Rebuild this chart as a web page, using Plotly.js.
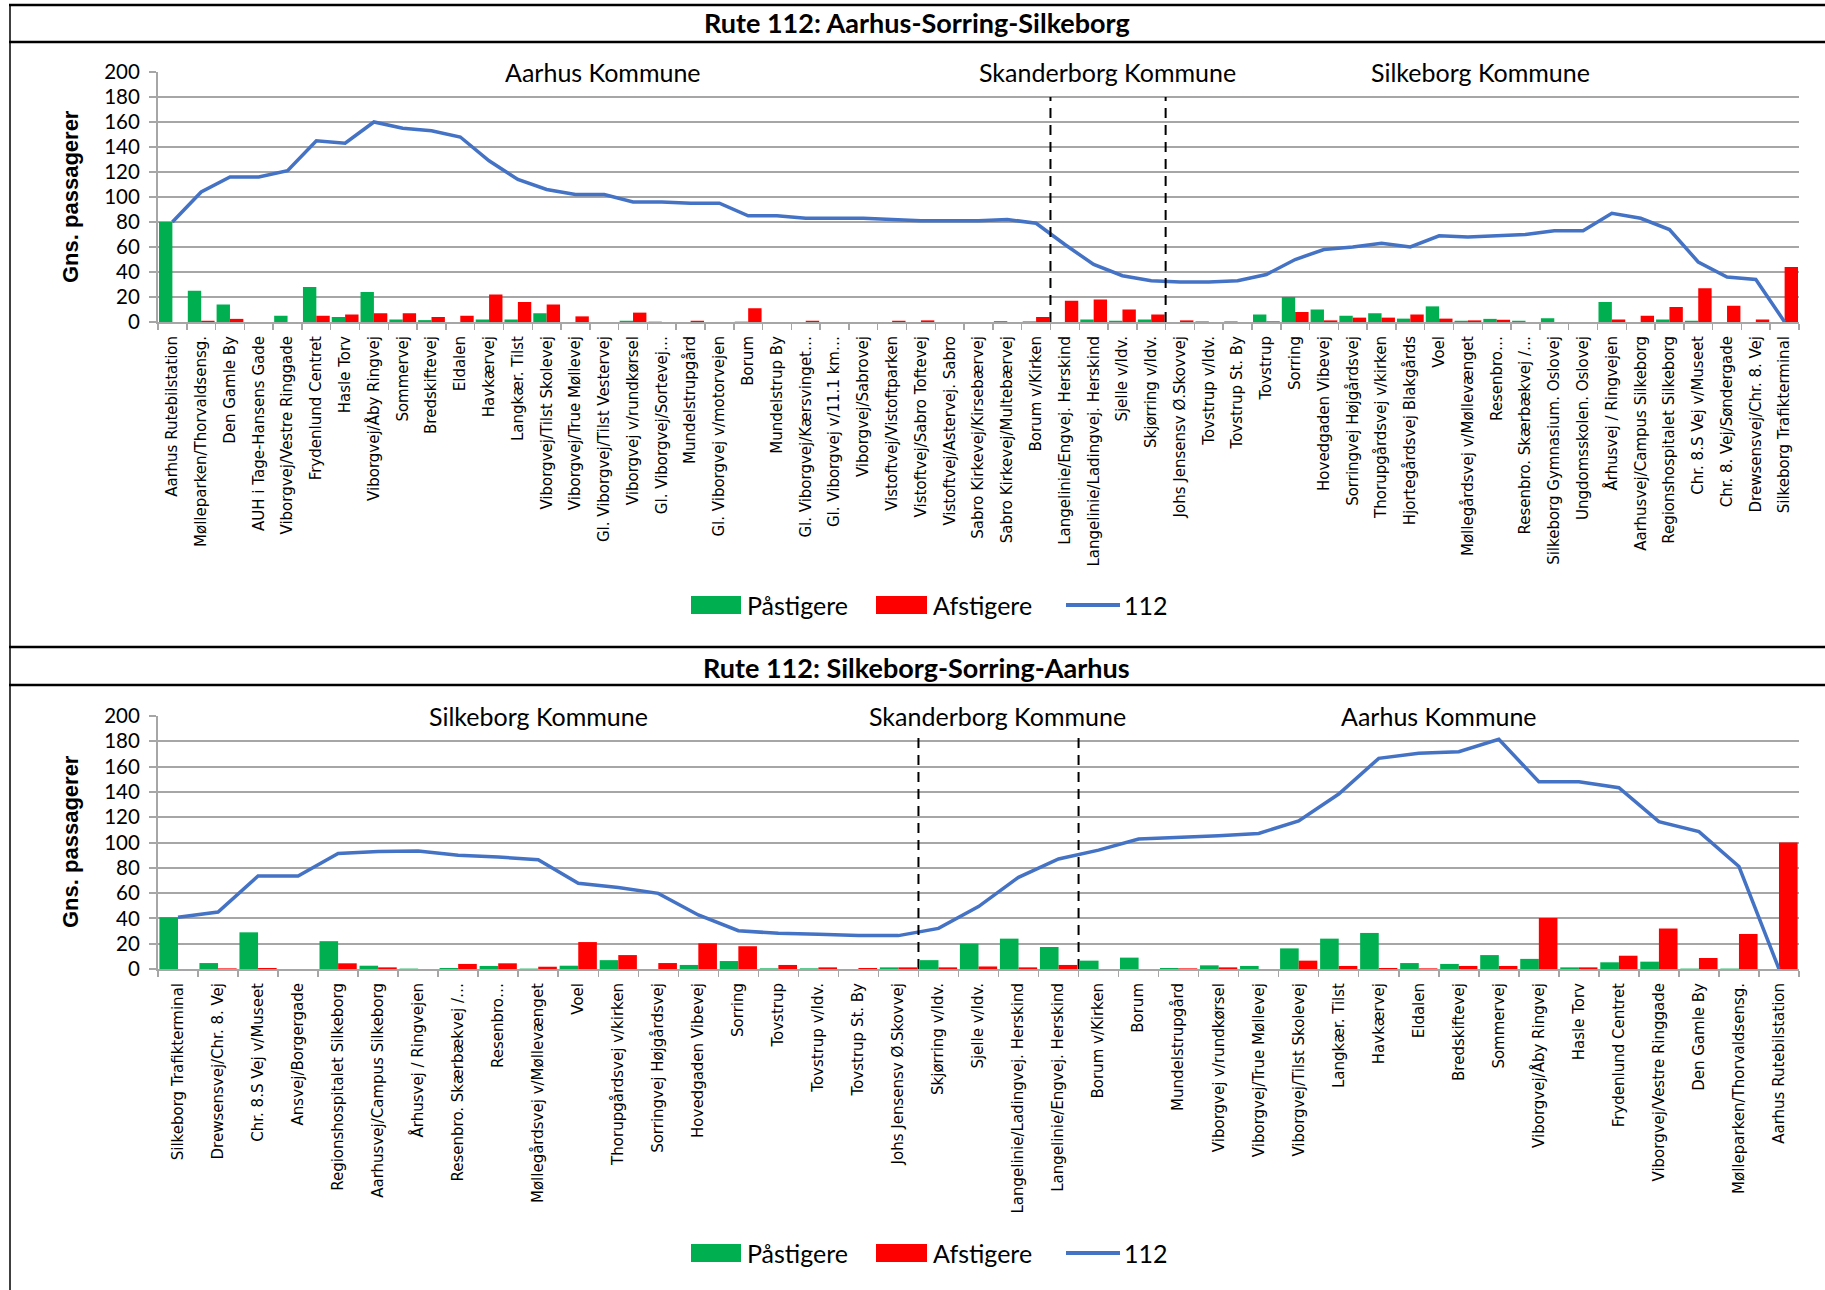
<!DOCTYPE html>
<html><head><meta charset="utf-8">
<script src="https://cdn.plot.ly/plotly-3.0.1.min.js"></script>
<style>html,body{margin:0;padding:0;background:#fff;} #chart{width:1825px;height:1290px;}</style>
</head><body><div id="chart"></div>
<script>
// ---- Top chart: Rute 112 Aarhus-Sorring-Silkeborg ----
const topStops = ["Aarhus Rutebilstation","Mølleparken/Thorvaldsensg.","Den Gamle By","AUH i Tage-Hansens Gade","Viborgvej/Vestre Ringgade","Frydenlund Centret","Hasle Torv","Viborgvej/Åby Ringvej","Sommervej","Bredskiftevej","Eldalen","Havkærvej","Langkær. Tilst","Viborgvej/Tilst Skolevej","Viborgvej/True Møllevej","Gl. Viborgvej/Tilst Vestervej","Viborgvej v/rundkørsel","Gl. Viborgvej/Sortevej…","Mundelstrupgård","Gl. Viborgvej v/motorvejen","Borum","Mundelstrup By","Gl. Viborgvej/Kærsvinget…","Gl. Viborgvej v/11.1 km…","Viborgvej/Sabrovej","Vistoftvej/Vistoftparken","Vistoftvej/Sabro Toftevej","Vistoftvej/Astervej. Sabro","Sabro Kirkevej/Kirsebærvej","Sabro Kirkevej/Multebærvej","Borum v/Kirken","Langelinie/Engvej. Herskind","Langelinie/Ladingvej. Herskind","Sjelle v/Idv.","Skjørring v/Idv.","Johs Jensensv Ø.Skovvej","Tovstrup v/Idv.","Tovstrup St. By","Tovstrup","Sorring","Hovedgaden Vibevej","Sorringvej Højgårdsvej","Thorupgårdsvej v/kirken","Hjortegårdsvej Blakgårds","Voel","Møllegårdsvej v/Møllevænget","Resenbro…","Resenbro. Skærbækvej /…","Silkeborg Gymnasium. Oslovej","Ungdomsskolen. Oslovej","Århusvej / Ringvejen","Aarhusvej/Campus Silkeborg","Regionshospitalet Silkeborg","Chr. 8.S Vej v/Museet","Chr. 8. Vej/Søndergade","Drewsensvej/Chr. 8. Vej","Silkeborg Trafikterminal"];
const topBoarding = [80,25,14,0,5,28,4,24,2,1.5,0,2,2,7,0,0,1,0.3,0,0,0.3,0,0,0,0,0,0,0,0,0.7,0.5,0,2,1,2,0,0.5,0.5,6,20,10,5,7,2.7,12.5,1,2.5,1,3,0,16,0,2,1,0,0,0];
const topAlighting = [0,1,2.5,0,0,5,6,7,7,4,5,22,16,14,4.5,0,7.5,0,1,0,11,0,1,0,0,1,1.3,0,0,0,4,17,18,10,6,1.3,0,0,0.5,8,1.3,3.5,3.5,6,2.7,1.3,1.8,0,0,0,2,5,12,27,13,2,44];
const topLoad = [80,104,116,116,121,145,143,160,155,153,148,129,114,106,102,102,96,96,95,95,85,85,83,83,83,82,81,81,81,82,79,62,46,37,33,32,32,33,38,50,58,60,63,60,69,68,69,70,73,73,87,83,74,48,36,34,0];
const topTitle = "Rute 112: Aarhus-Sorring-Silkeborg";
const topKommuner = ["Aarhus Kommune","Skanderborg Kommune","Silkeborg Kommune"];

// ---- Bottom chart: Rute 112 Silkeborg-Sorring-Aarhus ----
const bottomStops = ["Silkeborg Trafikterminal","Drewsensvej/Chr. 8. Vej","Chr. 8.S Vej v/Museet","Ansvej/Borgergade","Regionshospitalet Silkeborg","Aarhusvej/Campus Silkeborg","Århusvej / Ringvejen","Resenbro. Skærbækvej /…","Resenbro…","Møllegårdsvej v/Møllevænget","Voel","Thorupgårdsvej v/kirken","Sorringvej Højgårdsvej","Hovedgaden Vibevej","Sorring","Tovstrup","Tovstrup v/Idv.","Tovstrup St. By","Johs Jensensv Ø.Skovvej","Skjørring v/Idv.","Sjelle v/Idv.","Langelinie/Ladingvej. Herskind","Langelinie/Engvej. Herskind","Borum v/Kirken","Borum","Mundelstrupgård","Viborgvej v/rundkørsel","Viborgvej/True Møllevej","Viborgvej/Tilst Skolevej","Langkær. Tilst","Havkærvej","Eldalen","Bredskiftevej","Sommervej","Viborgvej/Åby Ringvej","Hasle Torv","Frydenlund Centret","Viborgvej/Vestre Ringgade","Den Gamle By","Mølleparken/Thorvaldsensg.","Aarhus Rutebilstation"];
const bottomBoarding = [41,4.7,29,0,22,2.6,0.3,0.8,2.4,0.3,2.6,7,0,3.2,6.3,0.5,0.5,0,1.3,7,20,24,17.4,6.6,9,0.8,2.9,2.4,16.3,24,28.5,4.7,4,11,8,1.3,5.3,5.8,0.3,0.3,0];
const bottomAlighting = [0,0.5,0.8,0,4.5,1.3,0,4,4.5,1.8,21.3,11,4.7,20.3,18,3.2,1.3,0.8,1.3,1.3,2,1.3,3.2,0,0,0.5,1.3,0,6.6,2.4,0.8,0.5,2.4,2.4,40.3,1.3,10.5,32,8.7,27.7,100];
const bottomLoad = [41,45,73.5,73.5,91.4,92.8,93.3,90,88.5,86.4,67.7,64.5,59.8,42.7,30.3,28.2,27.4,26.4,26.4,32.1,49.3,72.5,87,94,102.8,104,105.4,107.2,117,138.3,166.5,170.5,171.8,181.6,148,148,143.3,116.5,108.6,81,0];
const bottomTitle = "Rute 112: Silkeborg-Sorring-Aarhus";
const bottomKommuner = ["Silkeborg Kommune","Skanderborg Kommune","Aarhus Kommune"];

const seriesNames = ["Påstigere","Afstigere","112"];
const yTitle = "Gns. passagerer";

// ---- styling ----
const W = 1825, H = 1290;
const px = v => v / W;
const py = v => 1 - v / H;
const GREEN = '#00b050', RED = '#ff0000', BLUE = '#4472c4', GRID = '#a6a6a6';
const calib = 'Lato, Carlito, "Open Sans", sans-serif';

function traces(xs, b, a, l, xa, ya) {
  return [
    {type:'bar', x:xs, y:b, name:seriesNames[0], marker:{color:GREEN, line:{width:0}}, xaxis:xa, yaxis:ya, hoverinfo:'x+y'},
    {type:'bar', x:xs, y:a, name:seriesNames[1], marker:{color:RED, line:{width:0}}, xaxis:xa, yaxis:ya, hoverinfo:'x+y'},
    {type:'scatter', mode:'lines', x:xs, y:l, name:seriesNames[2], line:{color:BLUE, width:3.5}, xaxis:xa, yaxis:ya, hoverinfo:'x+y'}
  ];
}
const data = traces(topStops, topBoarding, topAlighting, topLoad, 'x', 'y')
  .concat(traces(bottomStops, bottomBoarding, bottomAlighting, bottomLoad, 'x2', 'y2'));

const xDomain = [px(158), px(1799)];
function xAxis(n, anchor) {
  return {domain:xDomain, anchor:anchor, type:'category', range:[-0.5, n-0.5],
    tickangle:-90, tickfont:{family:'"DejaVu Sans", Verdana, sans-serif', size:15, color:'#000'},
    ticks:'outside', tickson:'boundaries', ticklen:6, tickwidth:1.5, tickcolor:GRID,
    showline:true, linecolor:GRID, linewidth:2, showgrid:false, zeroline:false,
    automargin:false, ticklabelstandoff:6, fixedrange:true};
}
function yAxis(dom, anchor) {
  return {domain:dom, anchor:anchor, range:[0,200], tick0:0, dtick:20,
    ticks:'outside', ticklen:7, tickwidth:2, tickcolor:GRID,
    showline:true, linecolor:GRID, linewidth:2, showgrid:true, gridcolor:GRID, gridwidth:2,
    zeroline:false, tickfont:{family:calib, size:20.5, color:'#000'}, automargin:false,
    ticklabelstandoff:5, fixedrange:true};
}

const shapes = [];
const blk = {color:'#000', width:2.5};
// panel frame lines
shapes.push({type:'line', xref:'paper', yref:'paper', x0:px(9), x1:1, y0:py(5), y1:py(5), line:blk});
shapes.push({type:'line', xref:'paper', yref:'paper', x0:px(9), x1:1, y0:py(42), y1:py(42), line:blk});
shapes.push({type:'line', xref:'paper', yref:'paper', x0:px(9), x1:1, y0:py(647), y1:py(647), line:blk});
shapes.push({type:'line', xref:'paper', yref:'paper', x0:px(9), x1:1, y0:py(685), y1:py(685), line:blk});
shapes.push({type:'line', xref:'paper', yref:'paper', x0:px(10), x1:px(10), y0:0, y1:py(5), line:{color:'#000', width:1.5}});
// municipality borders (dashed), at category boundaries
const dash = {color:'#000', width:2, dash:'10px,7px'};
[30.5, 34.5].forEach(b => shapes.push({type:'line', xref:'x', yref:'y', x0:b, x1:b, y0:0, y1:180, line:dash, layer:'above'}));
[18.5, 22.5].forEach(b => shapes.push({type:'line', xref:'x2', yref:'y2', x0:b, x1:b, y0:0, y1:183, line:dash, layer:'above'}));

const annotations = [];
// titles
annotations.push({xref:'paper', yref:'paper', x:px(917), y:py(23), text:'<b>'+topTitle+'</b>', showarrow:false, font:{family:calib, size:27, color:'#000'}, xanchor:'center', yanchor:'middle'});
annotations.push({xref:'paper', yref:'paper', x:px(917), y:py(667), text:'<b>'+bottomTitle+'</b>', showarrow:false, font:{family:calib, size:27, color:'#000'}, xanchor:'center', yanchor:'middle'});
// y titles
annotations.push({xref:'paper', yref:'paper', x:px(70), y:py(197), text:'<b>'+yTitle+'</b>', textangle:-90, showarrow:false, font:{family:'"Liberation Sans", Arial, sans-serif', size:22, color:'#000'}, xanchor:'center', yanchor:'middle'});
annotations.push({xref:'paper', yref:'paper', x:px(70), y:py(842), text:'<b>'+yTitle+'</b>', textangle:-90, showarrow:false, font:{family:'"Liberation Sans", Arial, sans-serif', size:22, color:'#000'}, xanchor:'center', yanchor:'middle'});
// municipality labels on the 200 line
const topK = [603, 1107, 1480], botK = [538, 997, 1439];
topKommuner.forEach((t,i) => annotations.push({xref:'paper', yref:'y', x:px(topK[i]), y:200, text:t, showarrow:false, bgcolor:'#fff', borderpad:5, font:{family:calib, size:25, color:'#000'}, xanchor:'center', yanchor:'middle'}));
bottomKommuner.forEach((t,i) => annotations.push({xref:'paper', yref:'y2', x:px(botK[i]), y:200, text:t, showarrow:false, bgcolor:'#fff', borderpad:5, font:{family:calib, size:25, color:'#000'}, xanchor:'center', yanchor:'middle'}));

// custom legends
function legend(cy) {
  shapes.push({type:'rect', xref:'paper', yref:'paper', x0:px(691), x1:px(741), y0:py(cy-9), y1:py(cy+9), fillcolor:GREEN, line:{width:0}});
  shapes.push({type:'rect', xref:'paper', yref:'paper', x0:px(876), x1:px(927), y0:py(cy-9), y1:py(cy+9), fillcolor:RED, line:{width:0}});
  shapes.push({type:'line', xref:'paper', yref:'paper', x0:px(1066), x1:px(1120), y0:py(cy), y1:py(cy), line:{color:BLUE, width:4}});
  const xs = [745, 931, 1122];
  seriesNames.forEach((t,i) => annotations.push({xref:'paper', yref:'paper', x:px(xs[i]), y:py(cy), text:t, showarrow:false, font:{family:calib, size:25, color:'#000'}, xanchor:'left', yanchor:'middle'}));
}
legend(605);
legend(1253);

const layout = {
  width:W, height:H, margin:{l:0, r:0, t:0, b:0},
  paper_bgcolor:'#fff', plot_bgcolor:'#fff', showlegend:false,
  barmode:'group', bargap:0.07, bargroupgap:0,
  xaxis:xAxis(topStops.length, 'y'),
  yaxis:yAxis([py(322), py(72)], 'x'),
  xaxis2:xAxis(bottomStops.length, 'y2'),
  yaxis2:yAxis([py(969), py(716)], 'x2'),
  shapes:shapes, annotations:annotations
};
Plotly.newPlot('chart', data, layout, {displayModeBar:false, staticPlot:true});
</script></body></html>
